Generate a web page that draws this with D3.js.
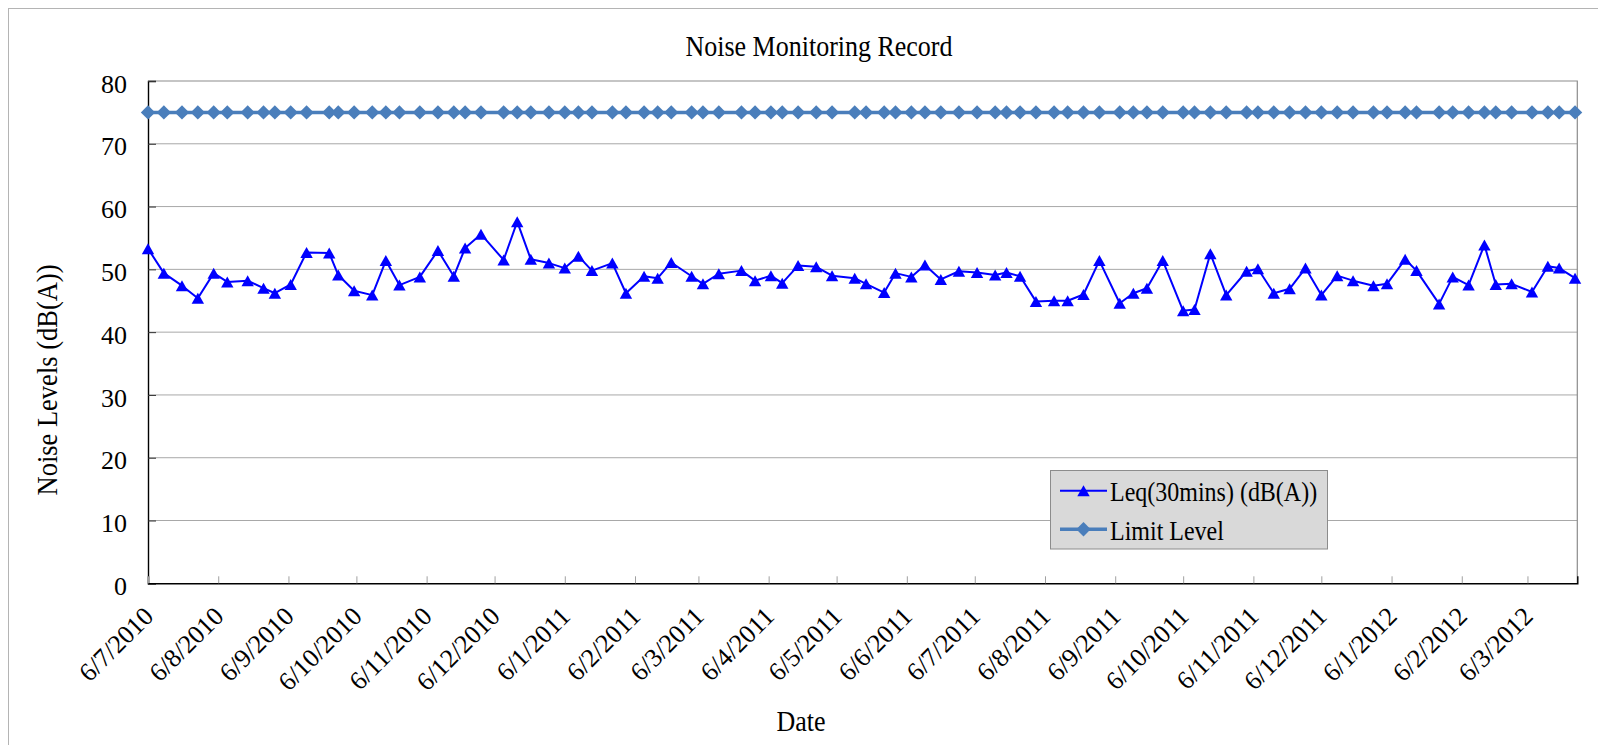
<!DOCTYPE html>
<html>
<head>
<meta charset="utf-8">
<script src="https://cdn.jsdelivr.net/npm/d3@7"></script>
<style>
  body { margin: 0; background: #fff; }
  svg { display: block; }
  text { font-family: "Liberation Serif", "Times New Roman", serif; fill: #000; }
</style>
</head>
<body>
<div id="chart"></div>
<script>
// measurement dates (d/m/yyyy on the axis)
let dates = [
  "2010-07-06","2010-07-13","2010-07-21","2010-07-28","2010-08-04","2010-08-10","2010-08-19","2010-08-26",
  "2010-08-31","2010-09-07","2010-09-14","2010-09-24","2010-09-28","2010-10-05","2010-10-13","2010-10-19",
  "2010-10-25","2010-11-03","2010-11-11","2010-11-18","2010-11-23","2010-11-30","2010-12-10","2010-12-16",
  "2010-12-22","2010-12-30","2011-01-06","2011-01-12","2011-01-18","2011-01-27","2011-02-02","2011-02-10",
  "2011-02-16","2011-02-22","2011-03-03","2011-03-08","2011-03-15","2011-03-25","2011-03-31","2011-04-07",
  "2011-04-12","2011-04-19","2011-04-27","2011-05-04","2011-05-14","2011-05-19","2011-05-27","2011-06-01",
  "2011-06-08","2011-06-14","2011-06-21","2011-06-29","2011-07-07","2011-07-15","2011-07-20","2011-07-26",
  "2011-08-02","2011-08-10","2011-08-16","2011-08-23","2011-08-30","2011-09-08","2011-09-14","2011-09-20",
  "2011-09-27","2011-10-06","2011-10-11","2011-10-18","2011-10-25","2011-11-03","2011-11-08","2011-11-15",
  "2011-11-22","2011-11-29","2011-12-06","2011-12-13","2011-12-20","2011-12-29","2012-01-04","2012-01-12",
  "2012-01-17","2012-01-27","2012-02-02","2012-02-09","2012-02-16","2012-02-21","2012-02-28","2012-03-08",
  "2012-03-15","2012-03-20","2012-03-27"
];

// Leq(30mins) (dB(A))
let leq = [
  53.3, 49.4, 47.4, 45.4, 49.4, 48.0, 48.2, 47.0, 46.2, 47.6, 52.7, 52.6, 49.1, 46.6, 45.9, 51.4,
  47.5, 48.8, 53.0, 48.9, 53.4, 55.6, 51.5, 57.6, 51.6, 51.0, 50.2, 52.1, 49.8, 51.0, 46.2, 48.9,
  48.6, 51.1, 48.9, 47.7, 49.3, 49.8, 48.2, 49.0, 47.8, 50.6, 50.4, 49.0, 48.6, 47.7, 46.3, 49.4,
  48.8, 50.7, 48.4, 49.7, 49.5, 49.1, 49.5, 48.9, 44.9, 45.0, 45.0, 46.0, 51.4, 44.6, 46.2, 47.0,
  51.4, 43.4, 43.6, 52.5, 45.9, 49.7, 50.1, 46.2, 46.9, 50.2, 45.9, 49.0, 48.2, 47.4, 47.7, 51.6,
  49.8, 44.5, 48.8, 47.5, 53.9, 47.6, 47.7, 46.4, 50.5, 50.2, 48.6
];

// Limit Level (dB(A)), same for every measurement
let limitLevel = 75;

// axis settings
let xTickLabels = [
  "6/7/2010","6/8/2010","6/9/2010","6/10/2010","6/11/2010","6/12/2010","6/1/2011",
  "6/2/2011","6/3/2011","6/4/2011","6/5/2011","6/6/2011","6/7/2011","6/8/2011",
  "6/9/2011","6/10/2011","6/11/2011","6/12/2011","6/1/2012","6/2/2012","6/3/2012"
];
let xRange = ["2010-07-06", "2012-03-28"];
let yTicks = [0, 10, 20, 30, 40, 50, 60, 70, 80];

let createChart = function () {
    let width = 1598;
    let height = 745;
    let plot = { left: 148, right: 1577.3, top: 81, bottom: 583.3 };

    let parseDate = d3.timeParse("%Y-%m-%d");
    let parseTick = d3.timeParse("%d/%m/%Y");
    let formatTick = d3.timeFormat("%-d/%-m/%Y");

    let svg = d3.select("#chart")
        .append("svg")
        .attr("width", width)
        .attr("height", height);

    //outer chart area border (runs off the right and bottom edge)
    svg.append("rect")
        .attr("x", 8.5).attr("y", 8.5)
        .attr("width", 1700).attr("height", 900)
        .attr("fill", "none")
        .attr("stroke", "#b4b4b4");

    let x = d3.scaleTime()
        .domain(xRange.map(parseDate))
        .range([plot.left, plot.right]);

    let y = d3.scaleLinear()
        .domain([0, 80])
        .range([plot.bottom, plot.top]);

    //horizontal gridlines
    svg.append("g")
        .selectAll("line")
        .data(yTicks.filter(d => d > 0 && d < 80))
        .join("line")
        .attr("x1", plot.left).attr("x2", plot.right)
        .attr("y1", d => y(d)).attr("y2", d => y(d))
        .attr("stroke", "#a8a8a8")
        .attr("stroke-width", 1);

    //top and right border of the plot
    svg.append("path")
        .attr("d", `M${plot.left},${plot.top}H${plot.right}V${plot.bottom}`)
        .attr("fill", "none")
        .attr("stroke", "#8c8c8c")
        .attr("stroke-width", 1.2);

    //y axis, ticks pointing into the plot
    let yAxis = svg.append("g")
        .attr("transform", `translate(${plot.left},0)`)
        .call(d3.axisLeft(y).tickValues(yTicks).tickSize(-8).tickPadding(0));
    yAxis.select(".domain").attr("stroke", "#000").attr("stroke-width", 1.4);
    yAxis.selectAll(".tick line").attr("stroke", "#333");
    yAxis.selectAll(".tick text")
        .attr("x", -21)
        .attr("dy", "0.43em")
        .attr("font-size", 26)
        .attr("font-family", "Liberation Serif")
        .attr("fill", "#000");

    //x axis, ticks pointing into the plot
    let xTicks = xTickLabels.map(parseTick);
    let xAxis = svg.append("g")
        .attr("transform", `translate(0,${plot.bottom})`)
        .call(d3.axisBottom(x).tickValues(xTicks).tickSize(-7).tickFormat(formatTick));
    xAxis.select(".domain").attr("stroke", "#000").attr("stroke-width", 1.4);
    xAxis.selectAll(".tick line").attr("stroke", "#a0a0a0");
    xAxis.selectAll(".tick text")
        .attr("y", 0)
        .attr("dy", "0.35em")
        .attr("text-anchor", "end")
        .attr("transform", "translate(0,28) rotate(-45)")
        .attr("font-size", 26)
        .attr("font-family", "Liberation Serif")
        .attr("fill", "#000");

    let points = dates.map((d, i) => ({ date: parseDate(d), leq: leq[i], limit: limitLevel }));

    let trianglePath = "M0,-5.5L6.2,5.5L-6.2,5.5Z";
    let diamondPath = "M0,-7.2L7.2,0L0,7.2L-7.2,0Z";

    //limit level series
    svg.append("path")
        .datum(points)
        .attr("fill", "none")
        .attr("stroke", "#4a7ebb")
        .attr("stroke-width", 3.5)
        .attr("d", d3.line().x(d => x(d.date)).y(d => y(d.limit)));

    svg.append("g")
        .selectAll("path")
        .data(points)
        .join("path")
        .attr("d", diamondPath)
        .attr("transform", d => `translate(${x(d.date)},${y(d.limit)})`)
        .attr("fill", "#4a7ebb");

    //Leq series
    svg.append("path")
        .datum(points)
        .attr("fill", "none")
        .attr("stroke", "#0000ff")
        .attr("stroke-width", 2)
        .attr("stroke-linejoin", "round")
        .attr("d", d3.line().x(d => x(d.date)).y(d => y(d.leq)));

    svg.append("g")
        .selectAll("path")
        .data(points)
        .join("path")
        .attr("d", trianglePath)
        .attr("transform", d => `translate(${x(d.date)},${y(d.leq)})`)
        .attr("fill", "#0000ff");

    //text that is drawn a bit taller than the font, like the original
    let tallText = function (tx, ty, str, size, anchor, rot) {
        svg.append("text")
            .attr("transform", `translate(${tx},${ty}) rotate(${rot || 0}) scale(1,1.14)`)
            .attr("text-anchor", anchor)
            .attr("font-size", size)
            .text(str);
    };

    tallText(819, 56, "Noise Monitoring Record", 26, "middle");
    tallText(57, 380, "Noise Levels (dB(A))", 26.5, "middle", -90);
    tallText(801, 731, "Date", 26, "middle");

    //legend
    let legend = svg.append("g");
    legend.append("rect")
        .attr("x", 1050.5).attr("y", 470.5)
        .attr("width", 277).attr("height", 78.5)
        .attr("fill", "#d9d9d9")
        .attr("stroke", "#8c8c8c");

    let legendItems = [
        { label: "Leq(30mins) (dB(A))", color: "#0000ff", width: 2, marker: trianglePath, y: 490.7 },
        { label: "Limit Level", color: "#4a7ebb", width: 3.5, marker: diamondPath, y: 529.3 }
    ];
    legendItems.forEach(item => {
        legend.append("line")
            .attr("x1", 1060).attr("x2", 1107)
            .attr("y1", item.y).attr("y2", item.y)
            .attr("stroke", item.color)
            .attr("stroke-width", item.width);
        legend.append("path")
            .attr("d", item.marker)
            .attr("transform", `translate(1083.5,${item.y})`)
            .attr("fill", item.color);
        tallText(1110, item.y + 10.5, item.label, 24, "start");
    });
};

createChart();
</script>
</body>
</html>
